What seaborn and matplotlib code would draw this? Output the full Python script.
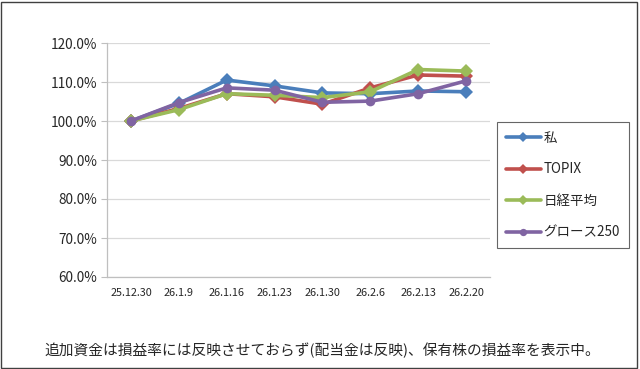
import matplotlib
matplotlib.use("Agg")
import matplotlib.pyplot as plt
import seaborn as sns
import pandas as pd
import numpy as np
from matplotlib.ticker import FuncFormatter
from matplotlib.patches import Rectangle

dates = ["25.12.30", "26.1.9", "26.1.16", "26.1.23", "26.1.30", "26.2.6", "26.2.13", "26.2.20"]
series_names = ["私", "TOPIX", "日経平均", "グロース250"]
me = [100.0, 104.5, 110.5, 109.0, 107.2, 107.0, 107.7, 107.5]
topix = [100.0, 103.2, 107.0, 106.2, 104.3, 108.5, 111.8, 111.5]
nikkei = [100.0, 102.9, 107.0, 106.6, 106.0, 107.5, 113.2, 112.8]
growth = [100.0, 104.7, 108.5, 107.9, 104.8, 105.1, 107.0, 110.3]
colors = ["#4A7EBB", "#C0504D", "#9BBB59", "#8064A2"]
markers = ["D", "D", "D", "o"]
footnote = "追加資金は損益率には反映させておらず(配当金は反映)、保有株の損益率を表示中。"

sns.set_style("white")
plt.rcParams['font.family'] = ['Noto Sans CJK JP', 'DejaVu Sans']

rows = []
for name, vals in zip(series_names, [me, topix, nikkei, growth]):
    for i, (d, v) in enumerate(zip(dates, vals)):
        rows.append({"date": d, "idx": i, "series": name, "value": v / 100.0})
df = pd.DataFrame(rows)

fig = plt.figure(figsize=(6.4, 3.69), dpi=100)
ax = fig.add_axes([107/640, 1 - 277/369, (490 - 107)/640, (277 - 43)/369])

sns.lineplot(data=df, x="idx", y="value", hue="series", hue_order=series_names,
             palette=colors, style="series", style_order=series_names,
             markers=dict(zip(series_names, markers)), dashes=False,
             linewidth=2.6, markersize=7, markeredgewidth=0, ax=ax, legend=True)

ax.set_xlim(-0.5, len(dates) - 0.5)
ax.set_ylim(0.6, 1.2)
ax.set_yticks(np.arange(0.6, 1.2001, 0.1))
ax.yaxis.set_major_formatter(FuncFormatter(lambda v, p: f"{v*100:.1f}%"))
ax.set_xticks(range(len(dates)))
ax.set_xticklabels(dates, fontsize=7.8)
ax.tick_params(axis='y', labelsize=9.8, length=4, color="#BFBFBF", pad=3, left=True)
ax.tick_params(axis='x', length=0, pad=8)
ax.grid(axis='y', color="#D9D9D9", linewidth=0.9)
ax.set_axisbelow(True)
for s in ["top", "right"]:
    ax.spines[s].set_visible(False)
for s in ["left", "bottom"]:
    ax.spines[s].set_color("#BFBFBF")
    ax.spines[s].set_linewidth(0.9)
ax.set_xlabel("")
ax.set_ylabel("")

handles, labels = ax.get_legend_handles_labels()
leg = ax.legend(handles, labels, loc="upper left", bbox_to_anchor=(497/640, 1 - 122/369),
                bbox_transform=fig.transFigure, frameon=True, fontsize=9.7,
                handlelength=2.6, handletextpad=0.2, labelspacing=1.3,
                borderpad=0.65, borderaxespad=0, markerscale=0.75,
                fancybox=False, edgecolor="#404040")
leg.get_frame().set_linewidth(0.8)

fig.text(322/640, 1 - 350/369, footnote, ha="center", va="center", fontsize=10.6)
fig.patches.append(Rectangle((1/640, 1/369), 636/640, 366/369, transform=fig.transFigure,
                             fill=False, edgecolor="#404040", linewidth=1.0))

fig.savefig("out.png", dpi=100)
